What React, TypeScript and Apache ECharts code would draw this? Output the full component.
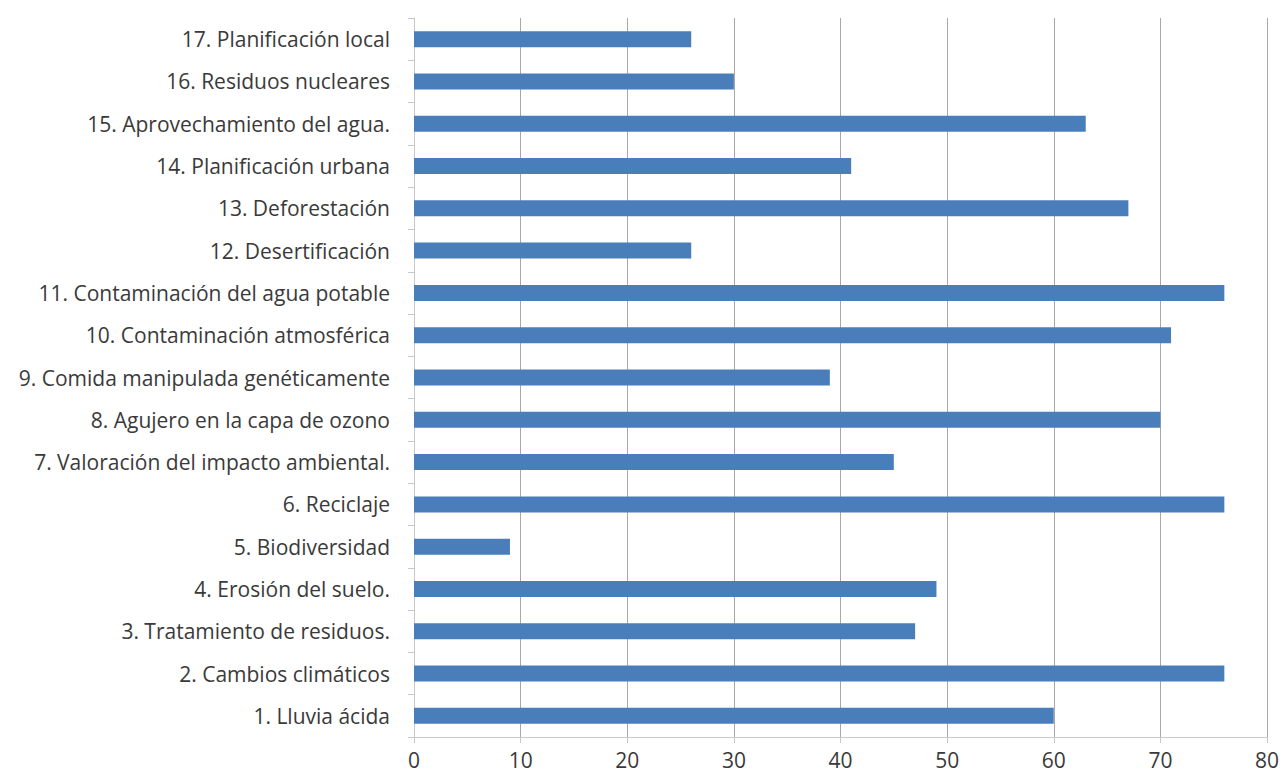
import React, { useEffect, useRef } from "react";
import * as echarts from "echarts";

const categories = [
  "1. Lluvia ácida",
  "2. Cambios climáticos",
  "3. Tratamiento de residuos.",
  "4. Erosión del suelo.",
  "5. Biodiversidad",
  "6. Reciclaje",
  "7. Valoración del impacto ambiental.",
  "8. Agujero en la capa de ozono",
  "9. Comida manipulada genéticamente",
  "10. Contaminación atmosférica",
  "11. Contaminación del agua potable",
  "12. Desertificación",
  "13. Deforestación",
  "14. Planificación urbana",
  "15. Aprovechamiento del agua.",
  "16. Residuos nucleares",
  "17. Planificación local",
];

const values = [60, 76, 47, 49, 9, 76, 45, 70, 39, 71, 76, 26, 67, 41, 63, 30, 26];

const xMin = 0;
const xMax = 80;
const xInterval = 10;

export default function App() {
  const ref = useRef<HTMLDivElement>(null);

  useEffect(() => {
    if (!ref.current) return;
    const chart = echarts.init(ref.current, null, { renderer: "svg" });
    const font = "'Open Sans', sans-serif";
    chart.setOption({
      animation: false,
      backgroundColor: "#ffffff",
      grid: { left: 414, right: 18, top: 18, bottom: 41, containLabel: false },
      xAxis: {
        type: "value",
        min: xMin,
        max: xMax,
        interval: xInterval,
        axisLine: { show: true, lineStyle: { color: "#c8c8c8", width: 1 } },
        axisTick: { show: true, length: 6, lineStyle: { color: "#c8c8c8" } },
        axisLabel: { color: "#3a3a3a", fontSize: 21, fontFamily: font, margin: 12 },
        splitLine: { show: true, lineStyle: { color: "#a8a8a8", width: 1 } },
      },
      yAxis: {
        type: "category",
        data: categories,
        axisLine: { show: true, lineStyle: { color: "#c8c8c8", width: 1 } },
        axisTick: { show: true, length: 6, lineStyle: { color: "#c8c8c8" } },
        axisLabel: { color: "#3a3a3a", fontSize: 21, fontFamily: font, margin: 24 },
        splitLine: { show: false },
      },
      series: [
        {
          type: "bar",
          data: values,
          barWidth: 16,
          itemStyle: { color: "#4a7ebb" },
        },
      ],
    });
    return () => chart.dispose();
  }, []);

  return (
    <div
      ref={ref}
      style={{ position: "fixed", left: 0, top: 0, width: 1285, height: 778 }}
    />
  );
}
